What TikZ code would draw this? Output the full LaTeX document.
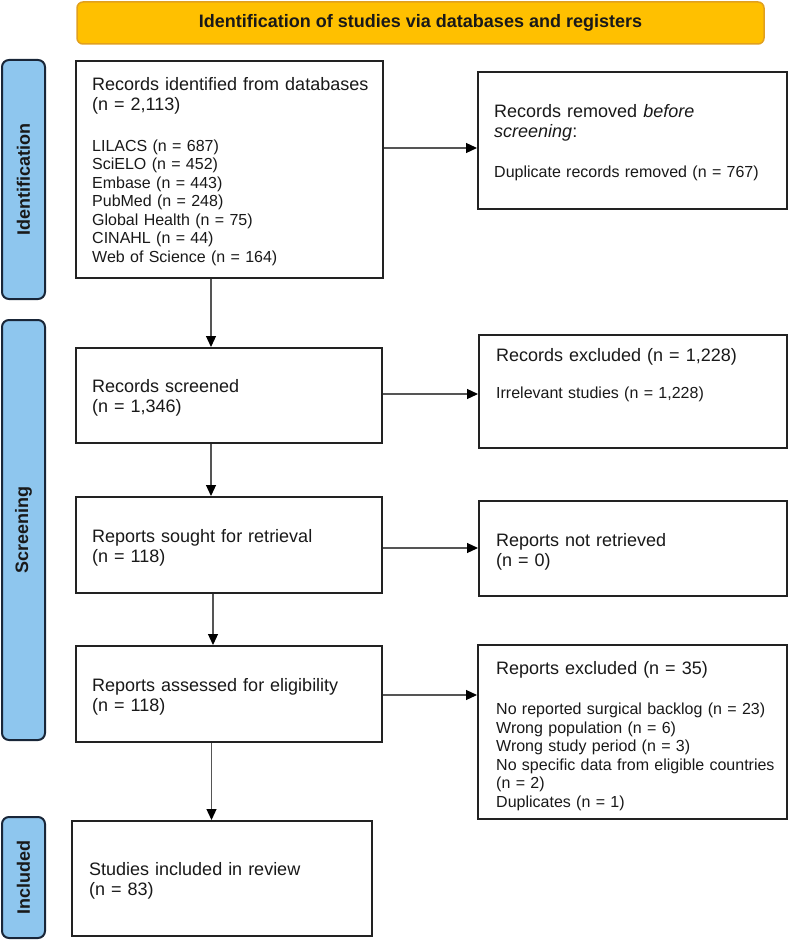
\documentclass[tikz,border=0pt]{standalone}
\usepackage{fontspec}
\setmainfont{Liberation Sans}
\usetikzlibrary{arrows.meta}
\definecolor{bannerfill}{RGB}{255,192,0}
\definecolor{bannerdraw}{RGB}{225,160,30}
\definecolor{barfill}{RGB}{142,198,238}
\definecolor{bardraw}{RGB}{25,38,56}
\definecolor{boxdraw}{RGB}{34,34,34}
\definecolor{arrowcol}{RGB}{85,85,85}
\definecolor{txt}{RGB}{25,25,25}
\begin{document}
\begin{tikzpicture}[x=1pt,y=-1pt,
  box/.style={draw=boxdraw,line width=2pt,fill=white,inner sep=0pt,rectangle},
  bar/.style={draw=bardraw,fill=barfill,line width=2pt,rounded corners=7pt,inner sep=0pt,
    rotate=90,font=\fontsize{18}{20}\selectfont\bfseries,text=txt},
  banner/.style={draw=bannerdraw,fill=bannerfill,line width=1.5pt,rounded corners=6pt,inner sep=0pt,
    font=\fontsize{18}{20}\selectfont\bfseries,text=txt},
  big/.style={anchor=base west,inner sep=0pt,align=left,text width=300pt,
    font=\fontsize{18}{20}\selectfont,text=txt},
  small/.style={anchor=base west,inner sep=0pt,align=left,text width=300pt,
    font=\fontsize{16}{18.45}\selectfont,text=txt},
  arr/.style={draw=arrowcol,line width=1.2pt,-{Triangle[length=11pt,width=10pt,color=black]}}
]
\useasboundingbox (0,0) rectangle (789,941);

% banner
\node[banner,minimum width=687pt,minimum height=42pt] (ban) at (420.5,23) {Identification of studies via databases and registers};

% side bars
\node[bar,minimum width=239pt,minimum height=43pt] (idbar) at (23.5,179.5) {Identification};
\node[bar,minimum width=420pt,minimum height=43pt] (scbar) at (23.5,530) {Screening};
\node[bar,minimum width=121pt,minimum height=43pt] (inbar) at (23.5,877.5) {Included};

% boxes
\node[box,minimum width=307pt,minimum height=217pt] (b1) at (229.5,169.5) {};
\node[box,minimum width=309pt,minimum height=137pt] (rem) at (632.5,140.5) {};
\node[box,minimum width=306pt,minimum height=95pt] (scr) at (229,395.5) {};
\node[box,minimum width=308pt,minimum height=113pt] (exc) at (633,391.5) {};
\node[box,minimum width=306pt,minimum height=96pt] (sou) at (229,545) {};
\node[box,minimum width=308pt,minimum height=95pt] (nre) at (633,548.5) {};
\node[box,minimum width=306pt,minimum height=96pt] (ass) at (229,694) {};
\node[box,minimum width=309pt,minimum height=174pt] (rex) at (632.5,732) {};
\node[box,minimum width=300pt,minimum height=115pt] (inc) at (222,878.5) {};

% texts
\node[big] (t1a) at (92,91) {Records identified from databases\\(n = 2,113)};
\node[small] (t1b) at (92,151.5) {LILACS (n = 687)\\SciELO (n = 452)\\Embase (n = 443)\\PubMed (n = 248)\\Global Health (n = 75)\\CINAHL (n = 44)\\Web of Science (n = 164)};
\node[big] (t2a) at (494,117.5) {Records removed \textit{before}\\\textit{screening}:};
\node[small] (t2b) at (494,178) {Duplicate records removed (n = 767)};
\node[big] (t3) at (92,392.7) {Records screened\\(n = 1,346)};
\node[big] (t4a) at (496,361) {Records excluded (n = 1,228)};
\node[small] (t4b) at (496,398.8) {Irrelevant studies (n = 1,228)};
\node[big] (t5) at (92,542) {Reports sought for retrieval\\(n = 118)};
\node[big] (t6) at (496,546) {Reports not retrieved\\(n = 0)};
\node[big] (t7) at (92,691) {Reports assessed for eligibility\\(n = 118)};
\node[big] (t8a) at (496,674.3) {Reports excluded (n = 35)};
\node[small] (t8b) at (496,714.8) {No reported surgical backlog (n = 23)\\Wrong population (n = 6)\\Wrong study period (n = 3)\\No specific data from eligible countries\\(n = 2)\\Duplicates (n = 1)};
\node[big] (t9) at (89,875.3) {Studies included in review\\(n = 83)};

% connectors
\draw[arr] (b1.east |- 0,148) -- (rem.west |- 0,148);
\draw[arr] (scr.east |- 0,394) -- (exc.west |- 0,394);
\draw[arr] (sou.east |- 0,548) -- (nre.west |- 0,548);
\draw[arr] (ass.east |- 0,695) -- (rex.west |- 0,695);
\draw[arr] (b1.south -| 211,0) -- (scr.north -| 211,0);
\draw[arr] (scr.south -| 211,0) -- (sou.north -| 211,0);
\draw[arr] (sou.south -| 213,0) -- (ass.north -| 213,0);
\draw[arr] (ass.south -| 211.5,0) -- (inc.north -| 211.5,0);
\end{tikzpicture}
\end{document}
